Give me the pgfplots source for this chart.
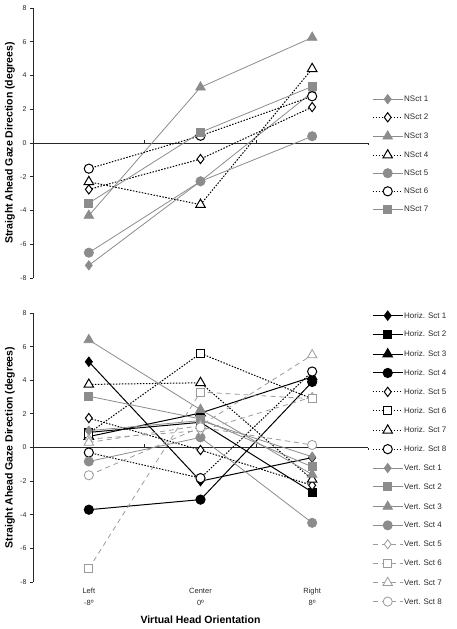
\documentclass[border=0pt]{standalone}
\usepackage{pgfplots}
\pgfplotsset{compat=1.18}
\usepackage{fontspec}
\setmainfont{Liberation Sans}
\definecolor{g}{RGB}{140,140,140}
\definecolor{gd}{RGB}{155,155,155}
\definecolor{ax}{RGB}{40,40,40}

\pgfplotsset{
 base/.style={scale only axis, width=335pt, clip=false,
   xmin=0,xmax=3, ymin=-8,ymax=8,
   axis y line=left, axis x line=bottom,
   x axis line style={draw=none},
   y axis line style={-,ax, line width=0.8pt},
   ytick={-8,-6,...,8}, yticklabels={-8,-6,-4,-2,0,2,4,6,8},
   tick align=outside, major tick length=3pt,
   y tick style={ax,line width=0.8pt},
   x tick style={draw=none},
   yticklabel style={font=\fontsize{7}{8}\selectfont, text=ax},
   ylabel={Straight Ahead Gaze Direction (degrees)},
   ylabel style={font=\bfseries\fontsize{10.5}{12}\selectfont, at={(axis description cs:-0.069,0.5)}, anchor=center},
   legend cell align=left,
   legend style={draw=none, fill=none, font=\fontsize{8}{9}\selectfont, text=ax, inner sep=0pt,
     nodes={inner sep=1pt, text height=6pt, text depth=1pt}},
   legend image code/.code={\draw[mark repeat=2,mark phase=2,##1] plot coordinates {(0pt,0pt) (15pt,0pt) (30pt,0pt)};},
 },
 gs/.style={g, line width=0.8pt, mark options={solid, fill=g, draw=g}},
 bs/.style={black, line width=1pt, mark options={solid, fill=black, draw=black}},
 bd/.style={black, line width=1pt, dash pattern=on 1.5pt off 1.5pt, mark options={solid, fill=white, draw=black, line width=1pt}},
 gdsh/.style={gd, line width=0.8pt, dash pattern=on 5pt off 4pt, mark options={solid, fill=white, draw=gd, line width=0.8pt}},
 mdia/.style={mark=diamond*, mark size=4.6pt},
 msq/.style={mark=square*, mark size=4pt},
 mtri/.style={mark=triangle*, mark size=5.5pt},
 mcir/.style={mark=*, mark size=4.6pt},
}

\begin{document}
\begin{tikzpicture}[x=1pt,y=1pt]
\useasboundingbox (0,0) rectangle (456,-629);
% ---------------- top panel ----------------
\begin{axis}[base, height=270pt, at={(33pt,-278pt)}, anchor=south west, xtick=\empty,
  legend style={at={(1.012,0.68)}, anchor=north west, row sep=8.9pt}]
\addplot[ax, line width=0.8pt, forget plot] coordinates {(0,0) (3,0)};
\draw[ax, line width=0.8pt] (axis cs:1,0) -- (axis cs:1,0.18);
\draw[ax, line width=0.8pt] (axis cs:2,0) -- (axis cs:2,0.18);
\draw[ax, line width=0.8pt] (axis cs:3,0) -- (axis cs:3,-0.12);
\addplot[gs, mdia] coordinates {(0.5,-7.25) (1.5,-2.27) (2.5,3.0)};
\addlegendentry{NSct 1}
\addplot[bd, mdia] coordinates {(0.5,-2.75) (1.5,-0.95) (2.5,2.13)};
\addlegendentry{NSct 2}
\addplot[gs, mtri] coordinates {(0.5,-4.3) (1.5,3.3) (2.5,6.25)};
\addlegendentry{NSct 3}
\addplot[bd, mtri] coordinates {(0.5,-2.3) (1.5,-3.65) (2.5,4.4)};
\addlegendentry{NSct 4}
\addplot[gs, mcir] coordinates {(0.5,-6.5) (1.5,-2.27) (2.5,0.4)};
\addlegendentry{NSct 5}
\addplot[bd, mcir] coordinates {(0.5,-1.52) (1.5,0.43) (2.5,2.77)};
\addlegendentry{NSct 6}
\addplot[gs, msq] coordinates {(0.5,-3.56) (1.5,0.63) (2.5,3.35)};
\addlegendentry{NSct 7}
\end{axis}
% ---------------- bottom panel ----------------
\begin{axis}[base, height=269pt, at={(33pt,-582pt)}, anchor=south west,
  xtick={0.5,1.5,2.5}, xticklabels={{Left\\-8º},{Center\\0º},{Right\\8º}},
  xticklabel style={align=center, font=\fontsize{7.5}{12}\selectfont, text=ax},
  xlabel={Virtual Head Orientation},
  xlabel style={font=\bfseries\fontsize{10.5}{12}\selectfont, at={(axis description cs:0.5,-0.141)}, anchor=center},
  legend style={at={(1.012,1.008)}, anchor=north west, row sep=9.7pt}]
\addplot[ax, line width=0.8pt, forget plot] coordinates {(0,0) (3,0)};
\draw[ax, line width=0.8pt] (axis cs:1,0) -- (axis cs:1,0.18);
\draw[ax, line width=0.8pt] (axis cs:2,0) -- (axis cs:2,0.18);
\draw[ax, line width=0.8pt] (axis cs:3,0) -- (axis cs:3,-0.12);
\addplot[bs, mdia] coordinates {(0.5,5.1) (1.5,-2.0) (2.5,-0.6)};
\addlegendentry{Horiz. Sct 1}
\addplot[bs, msq] coordinates {(0.5,0.9) (1.5,1.5) (2.5,-2.65)};
\addlegendentry{Horiz. Sct 2}
\addplot[bs, mtri] coordinates {(0.5,0.65) (1.5,2.05) (2.5,4.2)};
\addlegendentry{Horiz. Sct 3}
\addplot[bs, mcir] coordinates {(0.5,-3.7) (1.5,-3.1) (2.5,3.9)};
\addlegendentry{Horiz. Sct 4}
\addplot[bd, mdia] coordinates {(0.5,1.75) (1.5,-0.15) (2.5,-2.25)};
\addlegendentry{Horiz. Sct 5}
\addplot[bd, msq] coordinates {(0.5,0.85) (1.5,5.6) (2.5,2.9)};
\addlegendentry{Horiz. Sct 6}
\addplot[bd, mtri] coordinates {(0.5,3.75) (1.5,3.85) (2.5,-1.9)};
\addlegendentry{Horiz. Sct 7}
\addplot[bd, mcir] coordinates {(0.5,-0.3) (1.5,-1.82) (2.5,4.52)};
\addlegendentry{Horiz. Sct 8}
\addplot[gs, mdia] coordinates {(0.5,1.0) (1.5,1.6) (2.5,-0.55)};
\addlegendentry{Vert. Sct 1}
\addplot[gs, msq] coordinates {(0.5,3.05) (1.5,1.7) (2.5,-1.15)};
\addlegendentry{Vert. Sct 2}
\addplot[gs, mtri] coordinates {(0.5,6.4) (1.5,2.25) (2.5,-1.6)};
\addlegendentry{Vert. Sct 3}
\addplot[gs, mcir] coordinates {(0.5,-0.83) (1.5,0.6) (2.5,-4.48)};
\addlegendentry{Vert. Sct 4}
\addplot[gdsh, mdia] coordinates {(0.5,0.5) (1.5,1.0) (2.5,3.0)};
\addlegendentry{Vert. Sct 5}
\addplot[gdsh, msq] coordinates {(0.5,-7.2) (1.5,3.3) (2.5,2.9)};
\addlegendentry{Vert. Sct 6}
\addplot[gdsh, mtri] coordinates {(0.5,0.3) (1.5,1.3) (2.5,5.5)};
\addlegendentry{Vert. Sct 7}
\addplot[gdsh, mcir] coordinates {(0.5,-1.65) (1.5,1.2) (2.5,0.15)};
\addlegendentry{Vert. Sct 8}
\end{axis}
\end{tikzpicture}
\end{document}
